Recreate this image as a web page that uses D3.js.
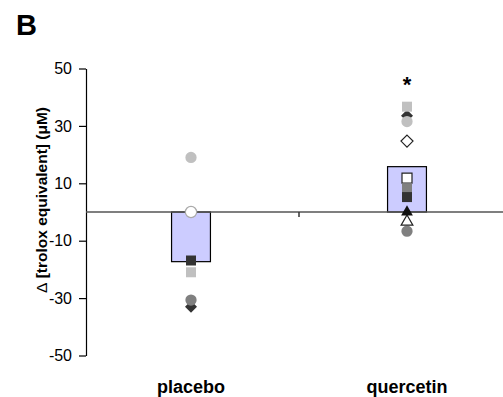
<!DOCTYPE html>
<html>
<head>
<meta charset="utf-8">
<script src="https://cdn.jsdelivr.net/npm/d3@7"></script>
<style>
  body { margin: 0; background: #fff; }
  svg { display: block; font-family: "Liberation Sans", Arial, sans-serif; }
</style>
</head>
<body>
<div id="chart"></div>
<script>
// groups and group means (bars)
let categories = ["placebo", "quercetin"];
let means = [-17.3, 15.8];
let yTicks = [-50, -30, -10, 10, 30, 50];

// individual subjects: one marker style each, value per group (null = not visible)
let subjectShapes = ["diamond", "circle", "circle", "square", "circle", "diamond", "square", "square", "square", "triangle", "triangle"];
let subjectFills = ["#333333", "#c0c0c0", "#ffffff", "#c0c0c0", "#808080", "#ffffff", "#ffffff", "#808080", "#333333", "#ffffff", "#111111"];
let placeboValues = [-33, 19, 0, -21, -30.7, null, null, null, -16.9, null, null];
let quercetinValues = [33.5, 31.5, null, 36.7, -6.7, 24.7, 11.8, 8.3, 5.2, -3.4, 0];

let width = 503, height = 397;
let margin = { top: 68.5, left: 86, bottom: 41.5 };

let svg = d3.select("#chart").append("svg")
    .attr("width", width)
    .attr("height", height);

let y = d3.scaleLinear()
    .domain([-50, 50])
    .range([height - margin.bottom, margin.top]);

let x = d3.scaleBand()
    .domain(categories)
    .range([83, 515])
    .padding(0);

// panel letter
svg.append("text")
    .attr("x", 16)
    .attr("y", 35)
    .attr("font-size", 29)
    .attr("font-weight", "bold")
    .text("B");

// y axis
let yAxis = d3.axisLeft(y)
    .tickValues(yTicks)
    .tickFormat(d => String(d))
    .tickSize(7)
    .tickSizeOuter(0)
    .tickPadding(7);

let ax = svg.append("g")
    .attr("transform", `translate(${margin.left},0)`)
    .call(yAxis);
ax.attr("font-size", null).attr("font-family", null);
ax.selectAll("text").style("font-size", "16px").attr("fill", "#000");
ax.selectAll("line, path").attr("stroke", "#000").attr("stroke-width", 1.2);

// y title
let title = svg.append("text")
    .attr("transform", `translate(47,${y(0) - 12}) rotate(-90)`)
    .attr("text-anchor", "middle")
    .attr("font-size", 15.5)
    .attr("font-weight", "bold");
title.append("tspan").attr("font-weight", "normal").text("\u0394");
title.append("tspan").text(" [trolox equivalent] (\u03bcM)");

// bars
let barW = x.bandwidth() * 0.18;
svg.selectAll(".bar")
    .data(categories)
    .enter()
    .append("rect")
    .attr("class", "bar")
    .attr("x", d => x(d) + x.bandwidth() / 2 - barW / 2)
    .attr("y", (d, i) => y(Math.max(0, means[i])))
    .attr("width", barW)
    .attr("height", (d, i) => Math.abs(y(means[i]) - y(0)))
    .attr("fill", "#ccccff")
    .attr("stroke", "#000")
    .attr("stroke-width", 1.2);

// zero line with category divider tick
svg.append("line")
    .attr("x1", margin.left).attr("x2", width)
    .attr("y1", y(0)).attr("y2", y(0))
    .attr("stroke", "#555").attr("stroke-width", 1.5);
svg.append("line")
    .attr("x1", x(categories[1])).attr("x2", x(categories[1]))
    .attr("y1", y(0)).attr("y2", y(0) + 5)
    .attr("stroke", "#333").attr("stroke-width", 1.5);

// markers
let shapePath = (shape) => {
    if (shape === "circle") return d3.symbol(d3.symbolCircle, 100)();
    if (shape === "square") return d3.symbol(d3.symbolSquare, 100)();
    if (shape === "triangle") return d3.symbol(d3.symbolTriangle, 60)();
    // diamond: rotated square
    let r = 6;
    return `M0,${-r}L${r},0L0,${r}L${-r},0Z`;
};

let points = [];
subjectShapes.forEach((s, i) => {
    [placeboValues, quercetinValues].forEach((vals, g) => {
        if (vals[i] !== null) {
            points.push({ shape: s, fill: subjectFills[i], cat: categories[g], v: vals[i], idx: i });
        }
    });
});

svg.selectAll(".pt")
    .data(points)
    .enter()
    .append("path")
    .attr("class", "pt")
    .attr("d", d => shapePath(d.shape))
    .attr("transform", d => `translate(${x(d.cat) + x.bandwidth() / 2},${y(d.v)})`)
    .attr("fill", d => d.fill)
    .attr("stroke", d => d.fill === "#ffffff" ? (d.shape === "circle" ? "#aaa" : "#222") : "none")
    .attr("stroke-width", 1.2);

// significance mark
svg.append("text")
    .attr("x", x("quercetin") + x.bandwidth() / 2)
    .attr("y", 92)
    .attr("text-anchor", "middle")
    .attr("font-size", 22)
    .attr("font-weight", "bold")
    .text("*");

// category labels
svg.selectAll(".cat")
    .data(categories)
    .enter()
    .append("text")
    .attr("class", "cat")
    .attr("x", d => x(d) + x.bandwidth() / 2)
    .attr("y", 393)
    .attr("text-anchor", "middle")
    .attr("font-size", 18)
    .attr("font-weight", "bold")
    .text(d => d);
</script>
</body>
</html>
